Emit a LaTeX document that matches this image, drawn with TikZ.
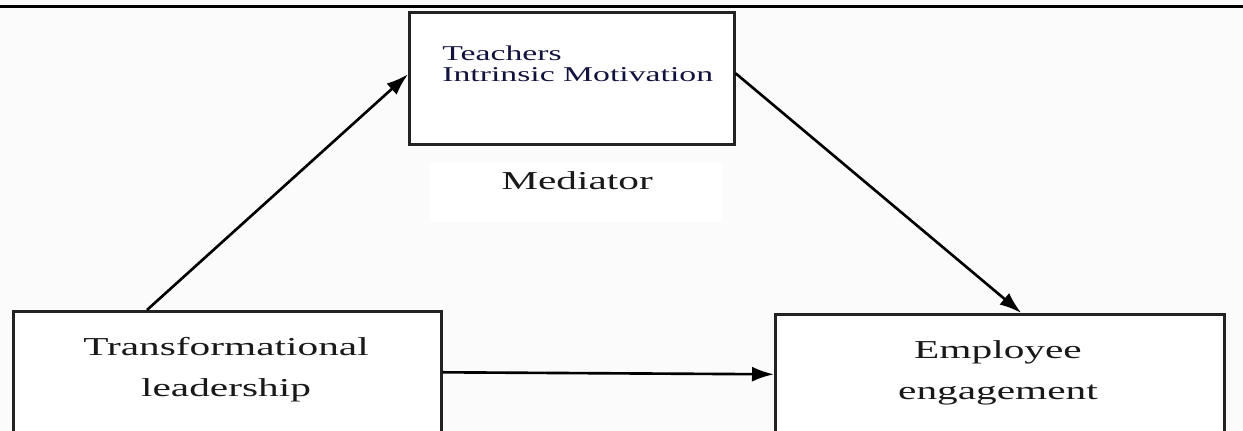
\documentclass[tikz,border=0pt]{standalone}
\usepackage{fontspec}
\setmainfont[FakeStretch=1.6]{Liberation Serif}
\usepackage{tikz}
\usetikzlibrary{arrows.meta,positioning,calc}
\usepackage{xcolor}
\definecolor{paperbg}{RGB}{251,251,251}
\definecolor{inkblue}{RGB}{18,18,62}
\definecolor{boxline}{RGB}{35,35,35}

\begin{document}
\begin{tikzpicture}[x=0.02cm, y=-0.02cm,
    varbox/.style={rectangle, draw=boxline, line width=1.5pt, fill=white, inner sep=0pt},
    bigtext/.style={inner sep=0pt, align=center, text=black!90, font=\fontsize{14.7pt}{23.2pt}\selectfont},
    smalltext/.style={inner sep=0pt, align=left, text=inkblue, font=\fontsize{12pt}{11.4pt}\selectfont},
    flow/.style={-{Latex[length=0.44cm, width=0.3cm]}, line width=1.5pt, black}]

    \useasboundingbox (0,0) rectangle (1243,431);
    \fill[paperbg] (0,0) rectangle (1243,431);
    \draw[line width=2pt] (0,6.5) -- (1243,6.5);

    % the three variables
    \node[varbox, anchor=north west, minimum width=6.5cm, minimum height=2.64cm] (motiv) at (408,11) {};
    \node[varbox, anchor=north west, minimum width=8.56cm, minimum height=3.2cm] (lead) at (12,310) {};
    \node[varbox, anchor=north west, minimum width=8.98cm, minimum height=3.2cm] (engage) at (774,313) {};

    \node[smalltext, anchor=north west] (motivtxt) at (442,46) {Teachers\\Intrinsic Motivation};
    \node[bigtext, anchor=north] (leadtxt) at (226,337) {Transformational\\leadership};
    \node[bigtext, anchor=north] (engagetxt) at (998,340) {Employee\\engagement};

    \node[fill=white, minimum width=5.84cm, minimum height=1.18cm, inner sep=0pt] (medbg) at (576,192.5) {};
    \node[bigtext, anchor=base] (med) at (577,190) {Mediator};

    % paths
    \draw[flow] ([xshift=2.7cm]lead.north west) -- ([yshift=0.08cm]motiv.west);
    \draw[flow] ([yshift=0.1cm]motiv.east) -- ([xshift=0.43cm]engage.north);
    \draw[flow] ([yshift=0.38cm]lead.east) -- ([yshift=0.4cm]engage.west);
\end{tikzpicture}
\end{document}
